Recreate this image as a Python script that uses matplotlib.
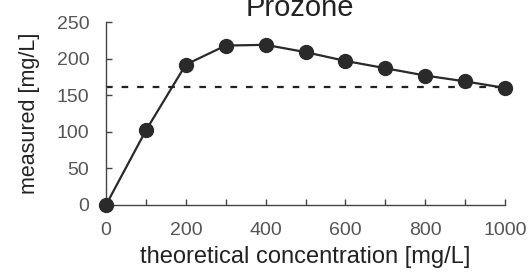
import matplotlib
matplotlib.use('Agg')
import matplotlib.pyplot as plt
from matplotlib.ticker import MultipleLocator

# data
theoretical = [0, 100, 200, 300, 400, 500, 600, 700, 800, 900, 1000]
measured = [0, 102, 192, 218, 219, 209, 197, 187, 177, 169, 160]
threshold = 161

plt.rcParams['font.family'] = ['Liberation Sans', 'DejaVu Sans']
plt.rcParams['xtick.direction'] = 'in'
plt.rcParams['ytick.direction'] = 'in'

fig = plt.figure(figsize=(5.3, 2.77), dpi=100)
ax = fig.add_axes([0.2, 0.26, 0.753, 0.66])

ax.plot([0, 1000], [threshold, threshold], color='#222222', lw=1.6,
        dashes=(3, 4), clip_on=False)
ax.plot(theoretical, measured, color='#2a2a2a', lw=1.6, marker='o',
        markersize=10, clip_on=False, zorder=3)

ax.set_xlim(0, 1000)
ax.set_ylim(0, 250)
ax.xaxis.set_major_locator(MultipleLocator(200))
ax.xaxis.set_minor_locator(MultipleLocator(100))
ax.yaxis.set_major_locator(MultipleLocator(50))

for s in ['top', 'right']:
    ax.spines[s].set_visible(False)
for s in ['left', 'bottom']:
    ax.spines[s].set_color('#444444')
    ax.spines[s].set_linewidth(1.0)

ax.tick_params(which='major', length=4, width=1, colors='#444444',
               labelcolor='#555555', labelsize=14)
ax.tick_params(which='minor', length=4, width=1, colors='#444444')
ax.tick_params(axis='x', pad=12)
ax.tick_params(axis='y', pad=12)

ax.set_xlabel('theoretical concentration [mg/L]', fontsize=17,
              color='#222222', labelpad=5)
ax.set_ylabel('measured [mg/L]', fontsize=15.5, color='#222222', labelpad=12)
ax.set_title('Prozone', fontsize=21, color='#222222', pad=4, x=0.487)

fig.savefig('out.png', dpi=100)
